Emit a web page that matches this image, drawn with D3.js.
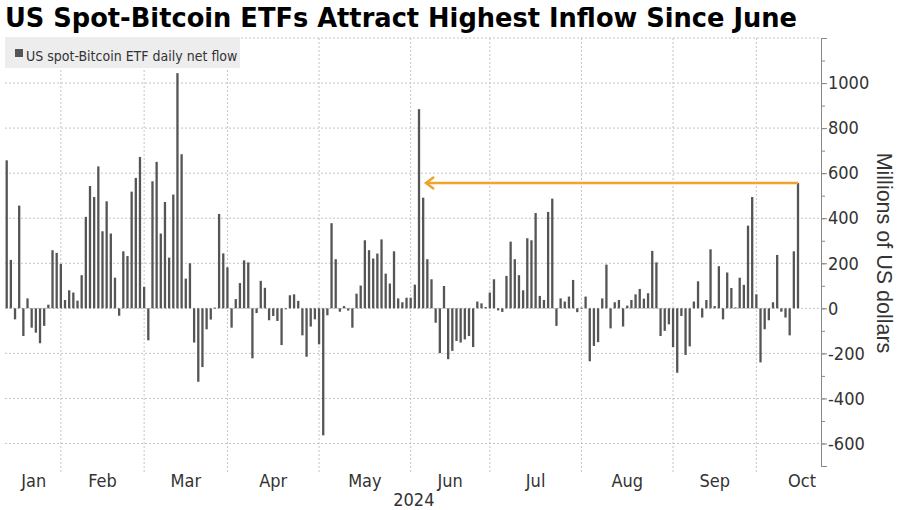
<!DOCTYPE html>
<html>
<head>
<meta charset="utf-8">
<script src="https://cdn.jsdelivr.net/npm/d3@7"></script>
<style>
  body { margin: 0; background: #fff; }
</style>
</head>
<body>
<div id="chart"></div>
<script>
// daily net flow, millions of US dollars, one value per trading day
var jan = [657, 215, -49, 456, -123, 44, -86, -108, -155, -78, 16, 258, 246, 197];
var feb = [37, 80, 70, 34, 147, 406, 543, 494, 630, 342, 475, 332, 136, -33, 253, 232, 518, 579, 672, 95];
var mar = [-142, 564, 650, 332, 472, 225, 505, 1044, 684, 132, 200, -152, -326, -261, -93, -50, 3, 419, 244, 182];
var apr = [-86, 41, 112, 213, 204, -222, -21, 122, 91, -53, -34, -56, -163, -1, 58, 62, 33, -120, -215, -81, -49, -160];
var may = [-564, -31, 378, 218, -15, 10, -10, -86, 65, 101, 302, 258, 221, 243, 306, 154, 110, 253, 44, 27, 47, 47];
var jun = [105, 884, 491, 218, 129, -64, -199, 99, -226, -189, -145, -152, -138, -123, -172, 30, 22, 6, 70];
var jul = [129, -9, -16, 144, 296, 218, 147, 80, 311, 302, 423, 55, 37, 428, 487, -78, 44, 30, 52, 126, -17, 3];
var aug = [52, -235, -167, -150, 44, 194, -89, 27, 37, -81, 12, 37, 62, 86, 43, 67, 255, 204, -123, -100, -71, -172];
var sep = [-286, -34, -207, -169, 30, 120, -41, 37, 262, 10, 187, -49, 159, 90, 4, 136, 104, 367, 494, 62];
var oct = [-240, -93, -53, 27, 237, -15, -41, -120, 253, 556];

var monthLabels = ["Jan", "Feb", "Mar", "Apr", "May", "Jun", "Jul", "Aug", "Sep", "Oct"];
var yearLabel = "2024";
var yTicks = [-600, -400, -200, 0, 200, 400, 600, 800, 1000];
var arrowFrom = 190, arrowTo = 99;   // Oct 14 back to Jun 4

var months = [jan, feb, mar, apr, may, jun, jul, aug, sep, oct];
var flows = [].concat.apply([], months);

var width = 900, height = 510;
var narrow = "'Liberation Sans Narrow', 'Arial Narrow', 'DejaVu Sans Condensed', sans-serif";
var axisX = 821;

var svg = d3.select("#chart").append("svg")
    .attr("width", width)
    .attr("height", height);

var x = d3.scaleLinear().domain([0, flows.length - 1]).range([6.7, 798]);
var y = d3.scaleLinear().domain([-700, 1200]).range([466, 38]);

// month boundaries (last trading day of each month)
var ends = [], c = 0;
months.forEach(function(m) { c += m.length; ends.push(c - 1); });

// horizontal grid
svg.append("g").selectAll("line")
    .data(yTicks.concat([1200]))
    .enter().append("line")
    .attr("x1", 5).attr("x2", axisX)
    .attr("y1", function(d) { return y(d); })
    .attr("y2", function(d) { return y(d); })
    .style("stroke", "#c4c4c4")
    .style("stroke-dasharray", "2,2")
    .attr("stroke-width", 1);

// vertical grid at month ends
svg.append("g").selectAll("line")
    .data(ends.slice(0, ends.length - 1))
    .enter().append("line")
    .attr("x1", function(d) { return x(d); })
    .attr("x2", function(d) { return x(d); })
    .attr("y1", 38).attr("y2", 474)
    .style("stroke", "#c4c4c4")
    .style("stroke-dasharray", "2,2")
    .attr("stroke-width", 1);

// legend
svg.append("rect").attr("x", 5).attr("y", 37).attr("width", 235).attr("height", 31)
    .attr("fill", "#ededed");
svg.append("rect").attr("x", 15).attr("y", 49).attr("width", 8).attr("height", 8)
    .attr("fill", "#555");
svg.append("text").text("US spot-Bitcoin ETF daily net flow")
    .attr("x", 26).attr("y", 61)
    .style("font-family", narrow).style("font-size", "14px").style("fill", "#333");

// bars
svg.append("g").selectAll("rect")
    .data(flows)
    .enter().append("rect")
    .attr("x", function(d, i) { return x(i) - 1.15; })
    .attr("width", 2.3)
    .attr("y", function(d) { return y(Math.max(0, d)); })
    .attr("height", function(d) { return Math.max(1, Math.abs(y(d) - y(0))); })
    .attr("fill", "#555");

// arrow
var ay = y(flows[arrowFrom]);
var tip = x(arrowTo) + 7;
svg.append("line")
    .attr("x1", x(arrowFrom)).attr("x2", tip + 1)
    .attr("y1", ay).attr("y2", ay)
    .style("stroke", "#f0a32e").attr("stroke-width", 2.5);
svg.append("path")
    .attr("d", "M" + (tip + 8) + "," + (ay - 6) + "L" + tip + "," + ay + "L" + (tip + 8) + "," + (ay + 6))
    .style("fill", "none").style("stroke", "#f0a32e").attr("stroke-width", 2.5);

// right axis
var minor = svg.append("g").attr("transform", "translate(" + axisX + ",0)")
    .call(d3.axisRight(y).tickValues(d3.range(-700, 1201, 100)).tickSize(4).tickFormat(""));
var major = svg.append("g").attr("transform", "translate(" + axisX + ",0)")
    .call(d3.axisRight(y).tickValues(yTicks).tickSize(6).tickPadding(1)
        .tickFormat(function(d) { return String(d); }));
[minor, major].forEach(function(g) {
    g.select(".domain").attr("stroke", "#888");
    g.selectAll(".tick line").attr("stroke", "#888");
});
major.selectAll("text")
    .style("font-family", narrow).style("font-size", "18px").style("fill", "#333");

svg.append("text").text("Millions of US dollars")
    .attr("transform", "translate(877,253) rotate(90)")
    .style("text-anchor", "middle")
    .style("font-family", "'Liberation Sans', Arial, sans-serif")
    .style("font-size", "21.5px").style("fill", "#333");

// month labels
var starts = [0].concat(ends.slice(0, ends.length - 1));
svg.append("g").selectAll("text")
    .data(monthLabels)
    .enter().append("text")
    .text(function(d) { return d; })
    .attr("x", function(d, i) {
        if (i === monthLabels.length - 1) return axisX - 5;
        return x((starts[i] + ends[i]) / 2);
    })
    .attr("y", 487)
    .style("text-anchor", function(d, i) { return i === monthLabels.length - 1 ? "end" : "middle"; })
    .style("font-family", narrow).style("font-size", "18px").style("fill", "#333");

svg.append("text").text(yearLabel)
    .attr("x", (x(0) + axisX) / 2).attr("y", 506)
    .style("text-anchor", "middle")
    .style("font-family", narrow).style("font-size", "18px").style("fill", "#333");

// title
svg.append("text").text("US Spot-Bitcoin ETFs Attract Highest Inflow Since June")
    .attr("x", 5).attr("y", 27)
    .style("font-family", "'DejaVu Sans', sans-serif")
    .style("font-weight", "bold")
    .style("font-size", "25.7px")
    .style("fill", "#000");
</script>
</body>
</html>
